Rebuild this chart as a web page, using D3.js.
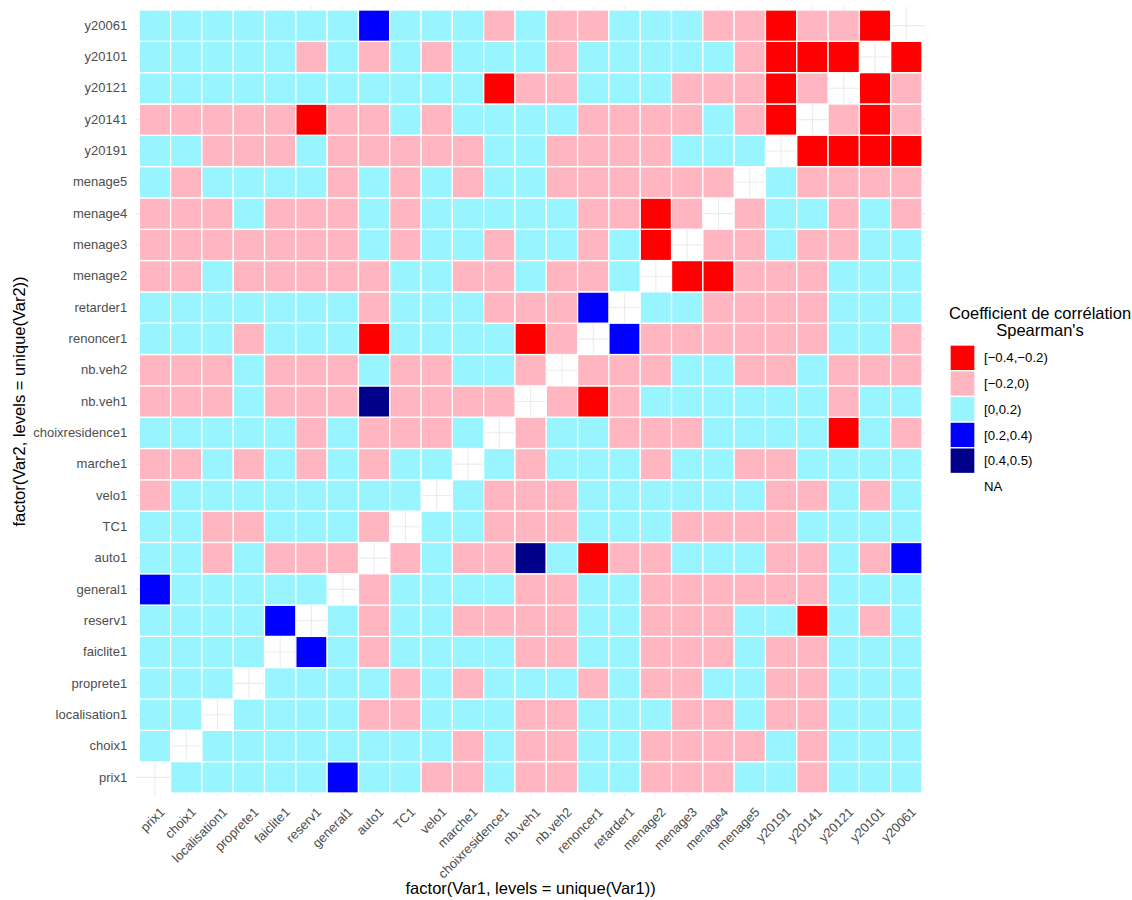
<!DOCTYPE html>
<html>
<head>
<meta charset="utf-8">
<script src="https://cdn.jsdelivr.net/npm/d3@7"></script>
<style>
body { margin: 0; background: #fff; font-family: "Liberation Sans", Arial, Helvetica, sans-serif; }
</style>
</head>
<body>
<div id="chart"></div>
<script>
// variables, same order on both axes
var vars = ["prix1", "choix1", "localisation1", "proprete1", "faiclite1", "reserv1", "general1",
  "auto1", "TC1", "velo1", "marche1", "choixresidence1", "nb.veh1", "nb.veh2", "renoncer1",
  "retarder1", "menage2", "menage3", "menage4", "menage5", "y20191", "y20141", "y20121",
  "y20101", "y20061"];

var binLabels = ["[\u22120.4,\u22120.2)", "[\u22120.2,0)", "[0,0.2)", "[0.2,0.4)", "[0.4,0.5)"];
var binColors = ["#ff0000", "#ffb6c1", "#98f5ff", "#0000ff", "#00008b"];

// bin index of each cell (0 = [-0.4,-0.2) ... 4 = [0.4,0.5)), null = NA
// one row per Var2 (prix1 first), columns in Var1 order
var bins = [
  [null,2,2,2,2,2,3,2,2,1,1,2,1,1,2,2,1,1,1,2,2,1,2,2,2],   // prix1
  [2,null,2,2,2,2,2,2,2,2,1,2,1,1,2,2,1,1,1,1,2,1,2,2,2],   // choix1
  [2,2,null,2,2,2,2,1,1,2,2,2,1,1,2,2,2,1,1,2,1,1,2,2,2],   // localisation1
  [2,2,2,null,2,2,2,2,1,2,1,2,2,2,1,2,1,1,2,2,1,1,2,2,2],   // proprete1
  [2,2,2,2,null,3,2,1,2,2,2,2,1,1,2,2,1,1,1,2,1,1,2,2,2],   // faiclite1
  [2,2,2,2,3,null,2,1,2,2,1,1,1,1,2,2,1,1,1,2,2,0,2,1,2],   // reserv1
  [3,2,2,2,2,2,null,1,2,2,2,2,1,1,2,2,1,1,1,1,1,1,2,2,2],   // general1
  [2,2,1,2,1,1,1,null,1,2,1,1,4,2,0,1,1,2,2,2,1,1,2,1,3],   // auto1
  [2,2,1,1,2,2,2,1,null,2,2,1,1,1,2,2,2,1,1,1,1,2,2,2,2],   // TC1
  [1,2,2,2,2,2,2,2,2,null,2,1,1,1,2,2,2,2,2,2,1,1,2,1,2],   // velo1
  [1,1,2,1,2,1,2,1,2,2,null,2,1,2,2,2,1,2,2,1,1,2,2,2,2],   // marche1
  [2,2,2,2,2,1,2,1,1,1,2,null,1,2,2,1,1,1,2,2,2,2,0,2,1],   // choixresidence1
  [1,1,1,2,1,1,1,4,1,1,1,1,null,1,0,1,2,2,2,2,2,2,1,2,2],   // nb.veh1
  [1,1,1,2,1,1,1,2,1,1,2,2,1,null,1,1,1,2,2,1,1,2,1,1,1],   // nb.veh2
  [2,2,2,1,2,2,2,0,2,2,2,2,0,1,null,3,1,1,1,1,1,1,2,2,1],   // renoncer1
  [2,2,2,2,2,2,2,1,2,2,2,1,1,1,3,null,2,2,1,1,1,1,2,2,2],   // retarder1
  [1,1,2,1,1,1,1,1,2,2,1,1,2,1,1,2,null,0,0,1,1,1,2,2,2],   // menage2
  [1,1,1,1,1,1,1,2,1,2,2,1,2,2,1,2,0,null,1,1,2,1,1,2,2],   // menage3
  [1,1,1,2,1,1,1,2,1,2,2,2,2,2,1,1,0,1,null,1,2,2,1,2,1],   // menage4
  [2,1,2,2,2,2,1,2,1,2,1,2,2,1,1,1,1,1,1,null,2,1,1,1,1],   // menage5
  [2,2,1,1,1,2,1,1,1,1,1,2,2,1,1,1,1,2,2,2,null,0,0,0,0],   // y20191
  [1,1,1,1,1,0,1,1,2,1,2,2,2,2,1,1,1,1,2,1,0,null,1,0,1],   // y20141
  [2,2,2,2,2,2,2,2,2,2,2,0,1,1,2,2,2,1,1,1,0,1,null,0,1],   // y20121
  [2,2,2,2,2,1,2,1,2,1,2,2,2,1,2,2,2,2,2,1,0,0,0,null,0],   // y20101
  [2,2,2,2,2,2,2,3,2,2,2,1,2,1,1,2,2,2,1,1,0,1,1,0,null]    // y20061
];

var width = 1132, height = 900;

var svg = d3.select("#chart").append("svg")
  .attr("width", width)
  .attr("height", height);

// tile area and panel (discrete expansion of 0.6 on each side)
var tileLeft = 139.3, tileRight = 922, tileTop = 10, tileBottom = 793;
var x = d3.scaleBand().domain(vars).range([tileLeft, tileRight]);
var y = d3.scaleBand().domain(vars.slice().reverse()).range([tileTop, tileBottom]);
var bw = x.bandwidth(), bh = y.bandwidth();
var panel = { l: tileLeft - 0.1 * bw, r: tileRight + 0.1 * bw, t: tileTop - 0.1 * bh, b: tileBottom + 0.1 * bh };

// grid lines
var grid = svg.append("g");
grid.selectAll(".gx").data(vars).enter().append("line")
  .attr("x1", d => x(d) + bw / 2).attr("x2", d => x(d) + bw / 2)
  .attr("y1", panel.t).attr("y2", panel.b)
  .attr("stroke", "#ebebeb").attr("stroke-width", 1.1);
grid.selectAll(".gy").data(vars).enter().append("line")
  .attr("y1", d => y(d) + bh / 2).attr("y2", d => y(d) + bh / 2)
  .attr("x1", panel.l).attr("x2", panel.r)
  .attr("stroke", "#ebebeb").attr("stroke-width", 1.1);

// cells
var cells = [];
bins.forEach(function(row, i) {
  row.forEach(function(b, j) {
    cells.push({ var1: vars[j], var2: vars[i], bin: b });
  });
});

svg.append("g").selectAll("rect")
  .data(cells.filter(d => d.bin !== null))
  .enter().append("rect")
  .attr("x", d => x(d.var1))
  .attr("y", d => y(d.var2))
  .attr("width", bw)
  .attr("height", bh)
  .attr("fill", d => binColors[d.bin])
  .attr("stroke", "#fff")
  .attr("stroke-width", 1.3);

// axes
var yAxis = svg.append("g")
  .attr("transform", "translate(" + panel.l + ",0)")
  .call(d3.axisLeft(y).tickSize(0).tickPadding(9));
var xAxis = svg.append("g")
  .attr("transform", "translate(0," + panel.b + ")")
  .call(d3.axisBottom(x).tickSize(0));
svg.selectAll(".domain").remove();

yAxis.selectAll("text")
  .attr("fill", "#4d4d4d")
  .style("font-size", "13px")
  .style("font-family", "Liberation Sans, Arial, sans-serif");

xAxis.selectAll("text")
  .attr("x", 0).attr("y", 0).attr("dy", "0.72em")
  .attr("text-anchor", "end")
  .attr("transform", "translate(4,10) rotate(-45)")
  .attr("fill", "#4d4d4d")
  .style("font-size", "13px")
  .style("font-family", "Liberation Sans, Arial, sans-serif");

// axis titles
svg.append("text")
  .attr("x", (panel.l + panel.r) / 2)
  .attr("y", 894)
  .attr("text-anchor", "middle")
  .style("font-size", "16.5px")
  .text("factor(Var1, levels = unique(Var1))");

svg.append("text")
  .attr("transform", "translate(25," + ((panel.t + panel.b) / 2) + ") rotate(-90)")
  .attr("text-anchor", "middle")
  .style("font-size", "16.5px")
  .text("factor(Var2, levels = unique(Var2))");

// legend
var legend = svg.append("g").attr("transform", "translate(950,0)");
legend.append("text")
  .attr("x", 90).attr("y", 319)
  .attr("text-anchor", "middle")
  .style("font-size", "16.5px")
  .text("Coefficient de corrélation");
legend.append("text")
  .attr("x", 90).attr("y", 336)
  .attr("text-anchor", "middle")
  .style("font-size", "16.5px")
  .text("Spearman's");

var keyH = 25.7;
var items = binLabels.map((l, i) => ({ label: l, color: binColors[i] }));
items.push({ label: "NA", color: "none" });

var key = legend.selectAll(".key").data(items).enter().append("g")
  .attr("transform", (d, i) => "translate(0," + (345 + i * keyH) + ")");
key.append("rect")
  .attr("width", 25).attr("height", keyH)
  .attr("fill", d => d.color)
  .attr("stroke", d => d.color === "none" ? "none" : "#fff")
  .attr("stroke-width", 1.3);
key.append("text")
  .attr("x", 34).attr("y", keyH / 2)
  .attr("dy", "0.35em")
  .style("font-size", "13.2px")
  .text(d => d.label);
</script>
</body>
</html>
